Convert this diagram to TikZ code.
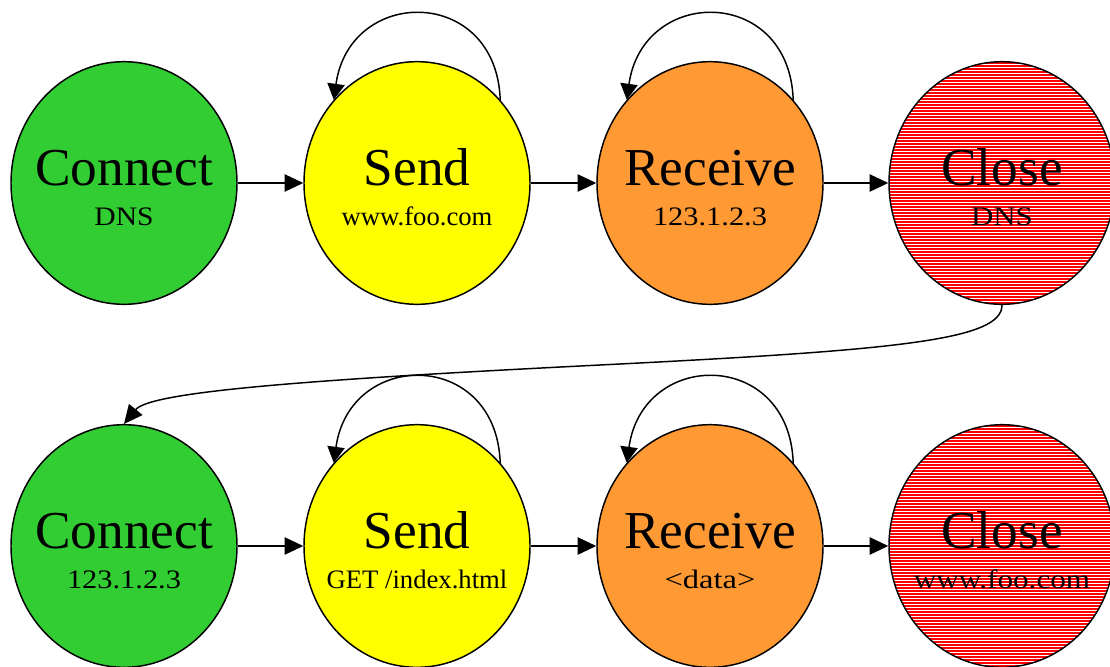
\documentclass[tikz,border=0pt]{standalone}
\usepackage{fontspec}
\usepackage{graphicx}
\setmainfont{Liberation Serif}
\usetikzlibrary{shapes.geometric,arrows.meta,calc}
\definecolor{cgreen}{RGB}{50,205,50}
\definecolor{cyellow}{RGB}{255,255,0}
\definecolor{corange}{RGB}{255,153,51}
% detail text, widened horizontally by the given factor
\newcommand{\wide}[2]{\scalebox{#1}[1]{#2}}
\tikzset{
  state/.style={ellipse, draw=black, line width=1.1pt, inner sep=0pt,
    minimum width=169.5pt, minimum height=182pt},
  connectst/.style={state, fill=cgreen},
  sendst/.style={state, fill=cyellow},
  recvst/.style={state, fill=corange},
  closest/.style={state, fill=white,
    path picture={
      \foreach \k in {-42,...,42}
        \draw[red, line width=0.8pt]
          ([yshift=\k*2.25pt]path picture bounding box.west) --
          ([yshift=\k*2.25pt]path picture bounding box.east);
    }},
  title/.style={anchor=base, font=\fontsize{40pt}{44pt}\selectfont, inner sep=0pt},
  detail/.style={anchor=base, font=\fontsize{20pt}{22pt}\selectfont, inner sep=0pt},
  edge/.style={line width=1.1pt, -{Triangle[length=14pt,width=13pt]}},
  loopedge/.style={line width=1.1pt, -{Triangle[length=12pt,width=13pt]}},
}
\begin{document}
\begin{tikzpicture}[x=0.75pt, y=-0.75pt]
\useasboundingbox (0,0) rectangle (1110,667);

% first connection: name lookup
\node[connectst] (c1) at (124,183) {};
\node[sendst]    (c2) at (417,183) {};
\node[recvst]    (c3) at (710,183) {};
\node[closest]   (c4) at (1002,183) {};

% second connection: page request
\node[connectst] (c5) at (124,546) {};
\node[sendst]    (c6) at (417,546) {};
\node[recvst]    (c7) at (710,546) {};
\node[closest]   (c8) at (1002,546) {};

% labels
\node[title]  (t1) at ($(c1)+(0,2)$)  {Connect};
\node[detail] (d1) at ($(c1)+(0,42)$) {\wide{1.11}{DNS}};
\node[title]  (t2) at ($(c2)+(0,2)$)  {Send};
\node[detail] (d2) at ($(c2)+(0,42)$) {www.foo.com};
\node[title]  (t3) at ($(c3)+(0,2)$)  {Receive};
\node[detail] (d3) at ($(c3)+(0,42)$) {\wide{1.14}{123.1.2.3}};
\node[title]  (t4) at ($(c4)+(0,2)$)  {Close};
\node[detail] (d4) at ($(c4)+(0,42)$) {\wide{1.16}{DNS}};

\node[title]  (t5) at ($(c5)+(0,2)$)  {Connect};
\node[detail] (d5) at ($(c5)+(0,42)$) {\wide{1.14}{123.1.2.3}};
\node[title]  (t6) at ($(c6)+(0,2)$)  {Send};
\node[detail] (d6) at ($(c6)+(0,42)$) {GET /index.html};
\node[title]  (t7) at ($(c7)+(0,2)$)  {Receive};
\node[detail] (d7) at ($(c7)+(0,42)$) {\wide{1.22}{<data>}};
\node[title]  (t8) at ($(c8)+(0,2)$)  {Close};
\node[detail] (d8) at ($(c8)+(0,42)$) {\wide{1.17}{www.foo.com}};

% transitions along each row
\draw[edge] (c1.east) -- (c2.west);
\draw[edge] (c2.east) -- (c3.west);
\draw[edge] (c3.east) -- (c4.west);
\draw[edge] (c5.east) -- (c6.west);
\draw[edge] (c6.east) -- (c7.west);
\draw[edge] (c7.east) -- (c8.west);

% self loops on send and receive
\foreach \n in {c2,c3,c6,c7}
  \draw[loopedge] (\n.45) .. controls +(-4,-114) and +(16,-114) .. (\n.135);

% from the first close to the second connect
\coordinate (mid) at (600,365);
\draw[line width=1.1pt] (c4.south) .. controls (1002,340) and (900,350) .. (mid);
\draw[edge] (mid) .. controls (300,380) and (150,392) .. (c5.north);
\end{tikzpicture}
\end{document}
